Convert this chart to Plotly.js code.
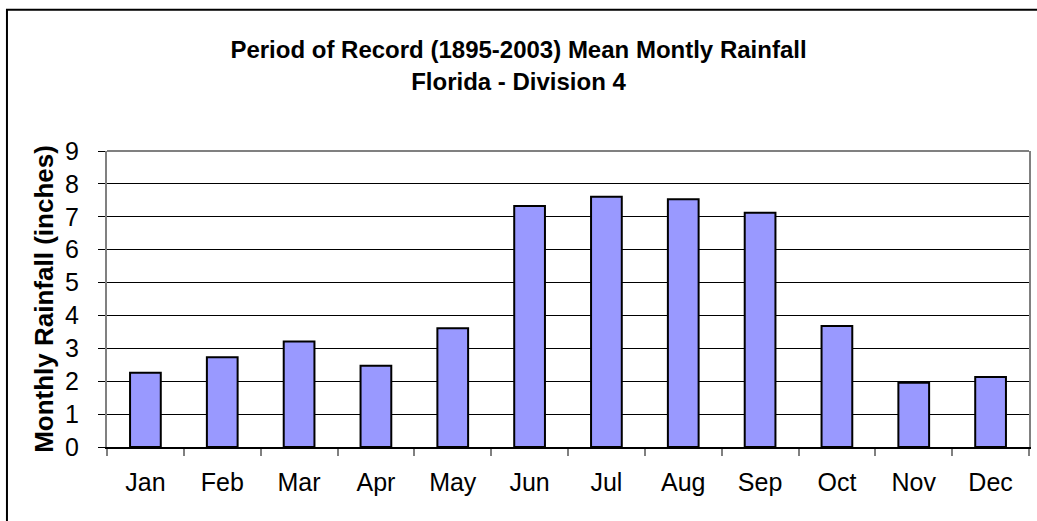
<!DOCTYPE html>
<html><head><meta charset="utf-8">
<script src="https://cdn.plot.ly/plotly-3.0.1.min.js"></script>
<style>html,body{margin:0;padding:0;background:#fff}#chart{width:1037px;height:521px}</style>
</head><body><div id="chart"></div>
<script>
const months = ["Jan","Feb","Mar","Apr","May","Jun","Jul","Aug","Sep","Oct","Nov","Dec"];
const rainfall = [2.26, 2.73, 3.21, 2.47, 3.61, 7.33, 7.61, 7.53, 7.12, 3.68, 1.95, 2.13];
const yTicks = [0,1,2,3,4,5,6,7,8,9];
const chartTitle = "<b>Period of Record (1895-2003) Mean Montly Rainfall<br>Florida - Division 4</b>";
const yTitle = "<b>Monthly Rainfall (inches)</b>";

const font = "Arial, 'Liberation Sans', sans-serif";
Plotly.newPlot('chart', [{
  type: 'bar', x: months, y: rainfall,
  marker: {color: '#9999FF', line: {color: '#000', width: 2}},
  hoverinfo: 'x+y'
}], {
  width: 1037, height: 521,
  margin: {l: 107, r: 8, t: 151, b: 74},
  paper_bgcolor: '#fff', plot_bgcolor: '#fff',
  bargap: 0.6,
  showlegend: false,
  font: {family: font, color: '#000', size: 25},
  title: {text: chartTitle, x: 0.5, xanchor: 'center', y: 0.888, yanchor: 'top',
          font: {family: font, size: 24, color: '#000'}},
  xaxis: {type: 'category', tickson: 'boundaries', ticks: 'outside', ticklen: 7,
          tickcolor: '#808080', tickwidth: 1.5, showline: true, linecolor: '#000', linewidth: 1.5,
          showgrid: false, tickfont: {size: 25}, ticklabelstandoff: 12, fixedrange: true},
  yaxis: {range: [0, 9], tickvals: yTicks, ticks: 'outside', ticklen: 7, tickcolor: '#000',
          showline: true, linecolor: '#808080', linewidth: 2, mirror: true,
          showgrid: true, gridcolor: '#000', gridwidth: 1, zeroline: false,
          tickfont: {size: 25}, ticklabelstandoff: 14,
          title: {text: yTitle, font: {size: 26}, standoff: 4}, fixedrange: true},
  shapes: [
    {type: 'line', xref: 'paper', yref: 'paper', x0: 0, x1: 1, y0: 1, y1: 1,
     line: {color: '#808080', width: 2}},
    {type: 'rect', xref: 'paper', yref: 'paper', x0: -0.1085, x1: 1.05, y0: -0.3, y1: 1.477,
     line: {color: '#000', width: 2}, fillcolor: 'rgba(0,0,0,0)', layer: 'above'}
  ]
}, {displayModeBar: false, staticPlot: false});
</script></body></html>
